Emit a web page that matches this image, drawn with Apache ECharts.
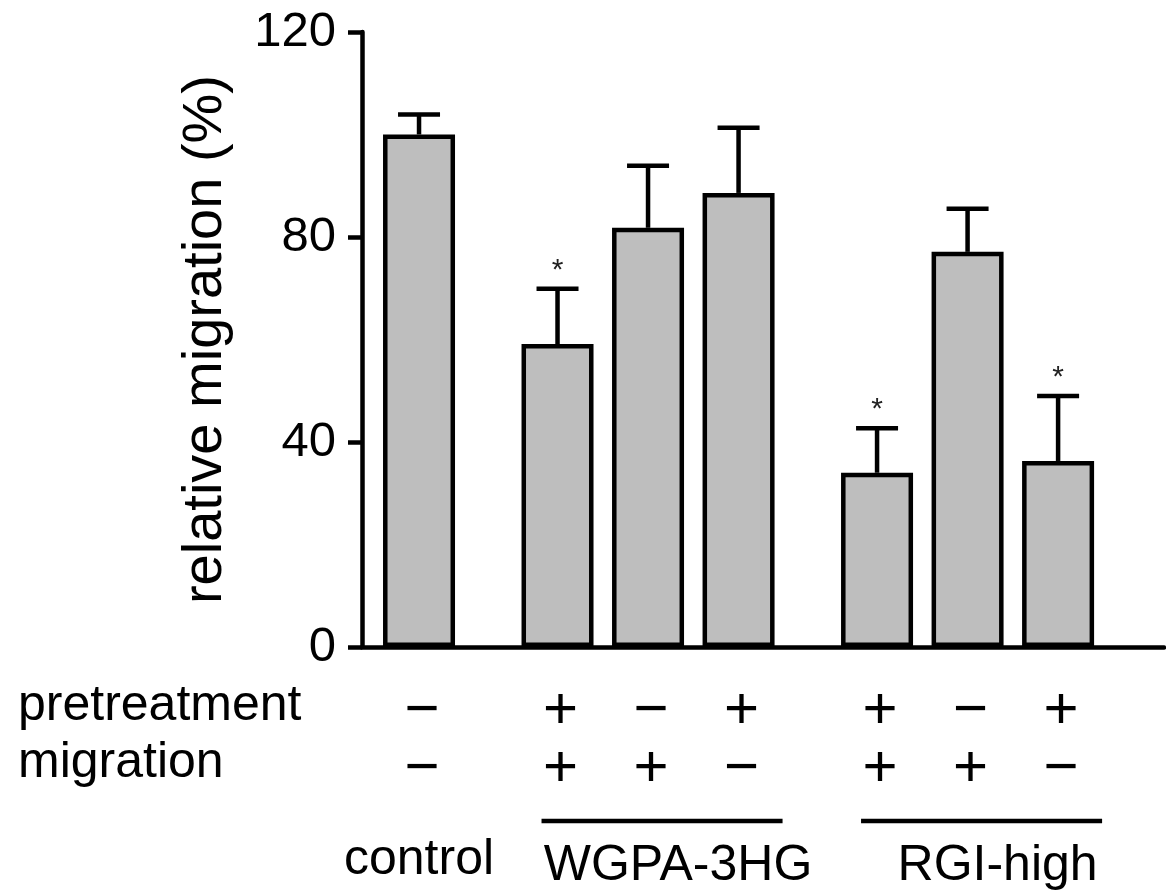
<!DOCTYPE html>
<html>
<head>
<meta charset="utf-8">
<script src="https://cdn.jsdelivr.net/npm/echarts@6/dist/echarts.min.js"></script>
<style>
html, body { margin: 0; padding: 0; background: #fff; }
#chart { width: 1166px; height: 896px; }
</style>
</head>
<body>
<div id="chart"></div>
<script>
var groups = ['control', 'WGPA-3HG', 'RGI-high']
var barGroup = [0, 1, 1, 1, 2, 2, 2]
var pretreatment = ['\u2212', '+', '\u2212', '+', '+', '\u2212', '+']
var migration = ['\u2212', '+', '+', '\u2212', '+', '+', '\u2212']
var means = [100, 59.1, 81.8, 88.6, 34.0, 77.1, 36.3]
var sem = [3.9, 10.8, 12.1, 12.7, 8.7, 8.4, 12.7]
var significant = [0, 1, 0, 0, 1, 0, 1]
var yTicks = [0, 40, 80, 120]

var FONT = 'Liberation Sans, Arial, Helvetica, sans-serif'
var GROUP_GAP = 1.53 // distance between groups, in bar spacings

// bar x positions: one unit inside a group, a wider gap between groups
var positions = []
var p = 0
barGroup.forEach(function (g, i) {
  if (i > 0) p += (g === barGroup[i - 1]) ? 1 : GROUP_GAP
  positions.push(p)
})

// first / last bar of every group
var groupSpans = groups.map(function (name, gi) {
  var xs = positions.filter(function (x, i) { return barGroup[i] === gi })
  return [xs[0], xs[xs.length - 1], gi]
})

var chart = echarts.init(document.getElementById('chart'))

chart.setOption({
  animation: false,
  grid: {
    left: 362,
    right: 2,
    top: 32,
    bottom: 249,
    containLabel: false,
    outerBoundsMode: 'none'
  },
  xAxis: {
    type: 'value',
    min: -0.63,
    max: 8.23,
    axisLine: { show: true, onZero: false, lineStyle: { color: '#000', width: 4.5 } },
    axisTick: { show: false },
    axisLabel: { show: false },
    splitLine: { show: false }
  },
  yAxis: {
    type: 'value',
    min: yTicks[0],
    max: yTicks[yTicks.length - 1],
    interval: yTicks[1] - yTicks[0],
    name: 'relative migration (%)',
    nameLocation: 'middle',
    nameRotate: 90,
    nameGap: 128,
    nameTextStyle: { fontSize: 56, color: '#000', fontFamily: FONT },
    axisLine: { show: true, onZero: false, lineStyle: { color: '#000', width: 4.5 } },
    axisTick: { show: true, length: 14, lineStyle: { color: '#000', width: 4.5 } },
    axisLabel: { fontSize: 49, margin: 26, color: '#000', fontFamily: FONT },
    splitLine: { show: false }
  },
  graphic: [
    {
      type: 'text', x: 18, y: 706,
      style: { text: 'pretreatment', font: '50px ' + FONT, fill: '#000', verticalAlign: 'middle' }
    },
    {
      type: 'text', x: 18, y: 763,
      style: { text: 'migration', font: '50px ' + FONT, fill: '#000', verticalAlign: 'middle' }
    }
  ],
  series: [
    {
      name: 'error',
      type: 'custom',
      z: 1,
      data: positions.map(function (x, i) { return [x, means[i], sem[i], significant[i]] }),
      renderItem: function (params, api) {
        var base = api.coord([api.value(0), api.value(1)])
        var top = api.coord([api.value(0), api.value(1) + api.value(2)])
        var line = { stroke: '#000', lineWidth: 4.5 }
        var kids = [
          { type: 'line', shape: { x1: base[0], y1: base[1], x2: top[0], y2: top[1] }, style: line },
          { type: 'line', shape: { x1: top[0] - 21, y1: top[1], x2: top[0] + 21, y2: top[1] }, style: line }
        ]
        if (api.value(3)) {
          kids.push({
            type: 'text', x: top[0], y: top[1] - 18,
            style: { text: '*', font: '30px ' + FONT, fill: '#222', align: 'center', verticalAlign: 'middle' }
          })
        }
        return { type: 'group', children: kids }
      }
    },
    {
      name: 'relative migration',
      type: 'bar',
      z: 2,
      barWidth: 72,
      data: positions.map(function (x, i) { return [x, means[i]] }),
      itemStyle: { color: '#bebebe', borderColor: '#000', borderWidth: 4.5 }
    },
    {
      name: 'treatment',
      type: 'custom',
      clip: false,
      silent: true,
      data: positions.map(function (x, i) { return [x, 0, i] }),
      renderItem: function (params, api) {
        var i = api.value(2)
        var pt = api.coord([api.value(0), 0])
        var st = function (t) {
          return { text: t, font: '60px ' + FONT, fill: '#000', align: 'center', verticalAlign: 'middle' }
        }
        return {
          type: 'group',
          children: [
            { type: 'text', x: pt[0] + 3, y: pt[1] + 64, style: st(pretreatment[i]) },
            { type: 'text', x: pt[0] + 3, y: pt[1] + 122, style: st(migration[i]) }
          ]
        }
      }
    },
    {
      name: 'groups',
      type: 'custom',
      clip: false,
      silent: true,
      data: groupSpans,
      renderItem: function (params, api) {
        var a = api.coord([api.value(0), 0])
        var b = api.coord([api.value(1), 0])
        var name = groups[api.value(2)]
        var kids = []
        var x0 = a[0], x1 = b[0]
        var ty = a[1] + 213
        var tx = a[0]
        if (x1 > x0) {
          x0 -= 16
          x1 += 44
          kids.push({
            type: 'line',
            shape: { x1: x0, y1: a[1] + 174, x2: x1, y2: a[1] + 174 },
            style: { stroke: '#000', lineWidth: 4.5 }
          })
          tx = (x0 + x1) / 2 + 16
          ty = a[1] + 219
        }
        kids.push({
          type: 'text', x: tx, y: ty,
          style: { text: name, font: '50px ' + FONT, fill: '#000', align: 'center', verticalAlign: 'middle' }
        })
        return { type: 'group', children: kids }
      }
    }
  ]
})
</script>
</body>
</html>
